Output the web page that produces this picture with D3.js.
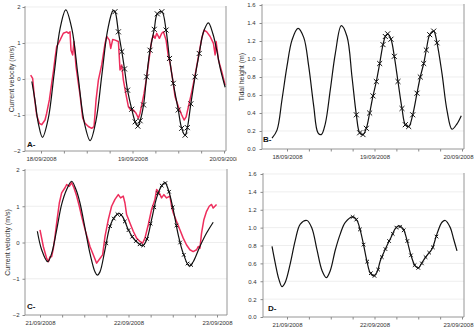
<!DOCTYPE html>
<html><head><meta charset="utf-8">
<script src="https://cdn.jsdelivr.net/npm/d3@7"></script>
<style>body{margin:0;background:#fff}svg{display:block}</style>
</head><body>
<svg id="chart" width="474" height="334"></svg>
<script>
// ---------- DATA ----------
const tickHours = [0, 6, 12, 18, 24, 30, 36, 42, 48];
const labelHours = [0, 24, 48];
const datesAB = ["18/09/2008", "19/09/2008", "20/09/2008"];
const datesCD = ["21/09/2008", "22/09/2008", "23/09/2008"];
const velTicks = [-2, -1, 0, 1, 2];
const heightTicks = [0, 0.2, 0.4, 0.6, 0.8, 1.0, 1.2, 1.4, 1.6];
const panelLetters = ["A-", "B-", "C-", "D-"];
const velTitle = "Current velocity (m/s)";
const heightTitle = "Tidal height (m)";

// Panel A: modelled current velocity (black) [hour, m/s]
const aModel = [[-2.4,-0.07],[-1.6,-0.58],[-0.7,-1.23],[0.4,-1.62],[1.9,-1.10],[3.45,0.15],[5.0,1.40],[6.5,1.92],[8.1,1.39],[9.7,0.10],[11.3,-1.18],[12.9,-1.71],[14.4,-1.17],[15.95,0.10],[17.5,1.37],[18.9,1.90],
[19.4,1.87],[20.3,1.31],[21.2,0.76],[21.9,0.28],[22.7,-0.31],[23.8,-0.84],[24.7,-1.19],[25.4,-1.31],[26.0,-1.16],[26.9,-0.72],[27.7,0.06],[28.6,0.80],[29.7,1.38],[30.5,1.81],[31.7,1.87],[32.8,1.36],[33.7,0.57],[34.7,-0.12],[36.0,-0.86],[36.9,-1.37],[37.8,-1.56],[38.4,-1.35],[39.3,-0.69],[40.4,0.06],[41.5,0.71],
[42.6,1.30],[43.9,1.56],[45.1,1.25],[46.1,0.80],[47.0,0.30],[48.3,-0.23]];
// Panel A: hourly measured points shown as crosses
const aMarks = [[19.4,1.87],[20.3,1.31],[21.2,0.76],[21.9,0.28],[22.7,-0.31],[23.8,-0.84],[24.7,-1.19],[25.4,-1.31],[26.0,-1.16],[26.9,-0.72],[27.7,0.06],[28.6,0.80],[29.7,1.38],[30.5,1.81],[31.7,1.87],[32.8,1.36],[33.7,0.57],[34.7,-0.12],[36.0,-0.86],[36.9,-1.37],[37.8,-1.56],[38.4,-1.35],[39.3,-0.69],[40.4,0.06],[41.5,0.71]];
// Panel A: observed current velocity (red)
const aObserved = [[-2.71,0.11],[-2.19,0.02],[-1.75,-0.49],[-1.14,-1.00],[-0.44,-1.23],[0.18,-1.27],[1.05,-1.14],[1.49,-0.95],[2.19,-0.58],[2.80,-0.12],[3.24,0.20],[3.67,0.57],[4.11,0.90],[4.99,1.08],[5.86,1.27],[6.74,1.31],[7.17,1.27],[7.61,1.31],[7.87,0.80],[8.31,0.67],[8.66,1.04],[9.19,0.34],[9.80,-0.12],[10.24,-0.44],[10.94,-1.09],[11.55,-1.23],[12.42,-1.32],[13.30,-1.37],[13.91,-1.32],[14.44,-0.58],[15.05,-0.03],[15.92,0.39],[16.80,0.99],[17.24,1.18],[17.94,1.08],[18.29,0.85],[18.81,1.10],[19.42,1.08],[20.30,1.04],[20.73,0.25],[21.17,0.39],[21.61,-0.03],[22.31,-0.44],[22.92,-0.77],[23.53,-0.86],[24.23,-0.86],[24.93,-0.95],[25.55,-1.09],[25.98,-0.95],[26.42,-0.72],[27.03,-0.40],[27.74,0.06],[28.43,0.62],[29.05,1.08],[29.48,1.22],[29.92,1.13],[30.36,1.27],[31.06,1.13],[31.67,1.27],[32.11,1.31],[32.81,1.08],[33.42,0.62],[33.86,0.44],[34.56,-0.03],[35.17,-0.49],[36.05,-0.77],[36.92,-1.00],[37.53,-1.14],[38.06,-1.05],[38.67,-0.77],[39.55,-0.35],[40.42,0.11],[41.29,0.62],[42.16,1.13],[42.78,1.36],[43.48,1.31],[44.36,1.18],[45.23,0.99],[45.67,0.67],[45.93,1.04],[46.54,0.53],[47.42,0.20],[48.29,-0.17]];

// Panel B: tidal height [hour, m]
const bModel = [[-4.11,0.12],[-2.74,0.21],[-1.37,0.55],[0,0.92],[1.37,1.21],[3.02,1.34],[4.58,1.24],[5.95,0.92],[7.32,0.48],[8.50,0.18],[9.41,0.16],[10.50,0.28],[11.88,0.66],[13.25,1.06],[14.89,1.37],[16.46,1.25],[17.83,0.80],
[19.02,0.38],[19.93,0.18],[20.84,0.16],[21.76,0.23],[22.67,0.40],[23.59,0.59],[24.50,0.75],[25.42,0.95],[26.33,1.16],[26.97,1.25],[27.61,1.28],[28.52,1.22],[29.43,1.03],[30.44,0.75],[31.54,0.45],[32.45,0.27],[33.38,0.25],[34.48,0.38],[35.66,0.62],[36.56,0.80],[37.49,0.95],[38.21,1.10],[39.14,1.27],[40.24,1.31],[41.14,1.18],
[42.51,0.84],[43.88,0.43],[45.25,0.22],[46.63,0.28],[47.8,0.37]];
const bMarks = [[19.02,0.38],[19.93,0.18],[20.84,0.16],[21.76,0.23],[22.67,0.40],[23.59,0.59],[24.50,0.75],[25.42,0.95],[26.33,1.16],[26.97,1.25],[27.61,1.28],[28.52,1.22],[29.43,1.03],[30.44,0.75],[31.54,0.45],[32.45,0.27],[33.38,0.25],[34.48,0.38],[35.66,0.62],[36.56,0.80],[37.49,0.95],[38.21,1.10],[39.14,1.27],[40.24,1.31],[41.14,1.18]];

// Panel C: modelled current velocity (black)
const cModel = [[-0.72,0.31],[0.45,-0.20],[2.08,-0.53],[3.16,-0.30],[4.52,0.35],[5.87,1.05],[7.23,1.46],[8.58,1.69],[9.76,1.46],[10.84,1.09],[12.20,0.40],[13.55,-0.30],[14.91,-0.81],[15.54,-0.90],[16.26,-0.81],[17.62,-0.20],[18.97,0.44],[20.33,0.72],[21.50,0.80],[22.58,0.68],[23.94,0.35],[25.29,0.12],[26.65,-0.02],[27.82,-0.09],[28.91,0.07],[30.26,0.63],[31.62,1.23],[32.97,1.56],[33.88,1.65],[34.78,1.46],[36.13,0.91],[37.49,0.21],[38.84,-0.30],[40.47,-0.65],[41.55,-0.53],[43.36,-0.11],[45.17,0.26],[46.97,0.56]];
const cMarks = [[18,-0.02],[19,0.45],[20,0.66],[21,0.78],[22,0.76],[23,0.58],[24,0.34],[25,0.16],[26,0.04],[27,-0.05],[28,-0.08],[29,0.10],[30,0.52],[31,0.97],[32,1.36],[33,1.57],[34,1.64],[35,1.40],[36,0.97],[37,0.47],[38,0.0],[39,-0.34],[40,-0.58],[41,-0.62]];
const cObserved = [[0,0.35],[0.45,0.12],[0.90,-0.11],[1.81,-0.44],[2.26,-0.53],[2.71,-0.39],[3.16,-0.39],[3.61,-0.17],[4.07,0.16],[4.52,0.54],[5.24,1.09],[5.87,1.37],[6.78,1.51],[7.23,1.60],[7.95,1.55],[8.58,1.65],[9.21,1.51],[9.94,1.28],[10.66,1.00],[11.29,0.72],[11.74,0.54],[12.47,0.26],[13.55,-0.11],[14.45,-0.34],[15.36,-0.57],[16.26,-0.44],[16.98,-0.34],[17.62,0.16],[18.52,0.63],[19.42,1.00],[20.33,1.19],[21.23,1.32],[21.86,1.23],[22.58,1.28],[23.04,1.09],[23.49,0.77],[24.39,0.54],[25.29,0.31],[26.20,0.12],[27.10,0.03],[27.82,-0.02],[28.46,0.12],[29.36,0.49],[30.26,0.91],[31.17,1.19],[31.62,1.46],[32.34,1.37],[32.97,1.23],[33.60,1.32],[34.33,1.23],[35.23,1.28],[35.68,1.00],[36.13,0.82],[37.04,0.58],[37.94,0.35],[38.84,0.12],[39.75,-0.07],[40.65,-0.20],[41.55,-0.25],[42.46,-0.20],[42.91,-0.11],[43.36,-0.16],[43.81,0.26],[44.44,0.63],[45.17,0.86],[45.89,1.00],[46.52,1.05],[46.97,0.95],[47.43,1.00],[47.88,1.05]];

// Panel D: tidal height
const dModel = [[-4.11,0.79],[-3.21,0.60],[-2.28,0.43],[-1.37,0.34],[-0.47,0.39],[0.91,0.60],[2.28,0.86],[3.65,1.04],[5.49,1.08],[6.86,0.99],[8.23,0.75],[9.60,0.52],[10.78,0.44],[11.88,0.52],[13.25,0.75],[14.62,0.93],[15.99,1.06],[18.10,1.12],[19.2,1.08],[20.10,0.97],[21.04,0.80],[21.94,0.62],[22.85,0.49],[23.78,0.46],[24.68,0.50],[25.59,0.63],[26.52,0.72],[27.43,0.80],[28.52,0.89],[29.70,0.99],[30.64,1.02],[31.82,0.99],[32.91,0.86],[34.01,0.69],[35.19,0.57],[36.12,0.55],[37.03,0.61],[38.40,0.69],[39.77,0.76],[41.14,0.93],[42.51,1.06],[43.42,1.08],[44.79,1.00],[45.72,0.87],[46.63,0.74]];
const dMarks = [[18,1.12],[19,1.09],[20,0.98],[21,0.81],[22,0.62],[23,0.49],[24,0.46],[25,0.53],[26,0.67],[27,0.76],[28,0.85],[29,0.93],[30,1.00],[31,1.01],[32,0.97],[33,0.85],[34,0.69],[35,0.58],[36,0.55],[37,0.60],[38,0.67],[39,0.72],[40,0.78],[41,0.90]];

// ---------- DRAW ----------
const svg = d3.select("#chart");
const FONT = "'Liberation Sans', Arial, sans-serif";
const RED = "#ee2d5c";

const panels = [
  {clip:[0,0,237,167], x0:25, x1:226, xr:[41,224], yTop:7, yBot:151, yDom:[-2,2], yt:velTicks, fmt:d3.format("d"),
   dates:datesAB, title:velTitle, titleX:12, model:aModel, marks:aMarks, obs:aObserved, letter:[27,147], mk:18, lblX:4, fitRight:false},
  {clip:[237,0,237,167], x0:262, x1:464, xr:[287,462], yTop:5, yBot:149, yDom:[0,1.6], yt:heightTicks, fmt:d3.format(".1f"),
   dates:datesAB, title:heightTitle, titleX:242, model:bModel, marks:bMarks, obs:null, letter:[263,142], mk:18, lblX:6, fitRight:true},
  {clip:[0,167,237,167], x0:25, x1:227, xr:[40,217], yTop:170, yBot:315, yDom:[-2,2], yt:velTicks, fmt:d3.format("d"),
   dates:datesCD, title:velTitle, titleX:8, model:cModel, marks:cMarks, obs:cObserved, letter:[27,309], mk:10, lblX:5, fitRight:false},
  {clip:[237,167,237,167], x0:263, x1:464, xr:[287,462], yTop:174, yBot:317, yDom:[0,1.6], yt:heightTicks, fmt:d3.format(".1f"),
   dates:datesCD, title:null, titleX:0, model:dModel, marks:dMarks, obs:null, letter:[268,311], mk:10, lblX:6, fitRight:true}
];

const defs = svg.append("defs");
panels.forEach((p, i) => {
  defs.append("clipPath").attr("id", "clip" + i).append("rect")
    .attr("x", p.clip[0]).attr("y", p.clip[1]).attr("width", p.clip[2]).attr("height", p.clip[3]);
  const g = svg.append("g").attr("clip-path", `url(#clip${i})`);
  const x = d3.scaleLinear().domain([0, 48]).range(p.xr);
  const y = d3.scaleLinear().domain(p.yDom).range([p.yBot, p.yTop]);

  // gridlines
  g.append("g").selectAll("line").data(p.yt.filter(v => v !== p.yDom[0])).join("line")
    .attr("x1", p.x0).attr("x2", p.x1).attr("y1", d => y(d)).attr("y2", d => y(d))
    .attr("stroke", "#e6e6e6").attr("stroke-width", 0.7);

  // frame: left, bottom, right
  g.append("path").attr("d", `M${p.x0},${p.yTop - 1}V${p.yBot}H${p.x1}V${p.yTop - 1}`)
    .attr("fill", "none").attr("stroke", "#8a8a8a").attr("stroke-width", 0.9);

  // y axis
  const ya = g.append("g").attr("transform", `translate(${p.x0},0)`)
    .call(d3.axisLeft(y).tickValues(p.yt).tickFormat(p.fmt).tickSize(2.5).tickPadding(p.lblX - 2));
  ya.select(".domain").remove();
  ya.selectAll("line").attr("stroke", "#8a8a8a");
  ya.selectAll("text").attr("font-family", FONT).attr("font-size", 6).attr("fill", "#333");

  // x axis
  const xa = g.append("g").attr("transform", `translate(0,${p.yBot})`)
    .call(d3.axisBottom(x).tickValues(tickHours).tickSize(2.5).tickPadding(3)
      .tickFormat(h => { const k = labelHours.indexOf(h); return k >= 0 ? p.dates[k] : ""; }));
  xa.select(".domain").remove();
  xa.selectAll("line").attr("stroke", "#8a8a8a");
  xa.selectAll("text").attr("font-family", FONT).attr("font-size", 6).attr("fill", "#333");
  if (p.fitRight) {
    // keep the last date label inside the picture
    xa.selectAll(".tick").filter(h => h === 48).select("text")
      .attr("text-anchor", "end").attr("x", 473 - x(48));
  }

  const line = d3.line().x(d => x(d[0])).y(d => y(d[1]));

  if (p.obs) {
    g.append("path").attr("d", line.curve(d3.curveLinear)(p.obs))
      .attr("fill", "none").attr("stroke", RED).attr("stroke-width", 1.5).attr("stroke-linejoin", "round");
  }
  g.append("path").attr("d", d3.line().x(d => x(d[0])).y(d => y(d[1])).curve(d3.curveCatmullRom.alpha(0.5))(p.model))
    .attr("fill", "none").attr("stroke", "#111").attr("stroke-width", 1.2);

  const sym = d3.symbol(d3.symbolTimes, p.mk);
  g.append("g").selectAll("path").data(p.marks).join("path")
    .attr("transform", d => `translate(${x(d[0])},${y(d[1])})`)
    .attr("d", sym).attr("fill", "none").attr("stroke", "#111").attr("stroke-width", 1);

  // panel letter
  g.append("text").attr("x", p.letter[0]).attr("y", p.letter[1]).text(panelLetters[i])
    .attr("font-family", FONT).attr("font-size", 8).attr("font-weight", "bold").attr("fill", "#111");

  // y title
  if (p.title) {
    const cy = (p.yTop + p.yBot) / 2;
    g.append("text").attr("transform", `translate(${p.titleX},${cy}) rotate(-90)`)
      .attr("text-anchor", "middle").attr("dy", "0.35em").text(p.title)
      .attr("font-family", FONT).attr("font-size", 7).attr("fill", "#333");
  }
});
</script>
</body></html>
